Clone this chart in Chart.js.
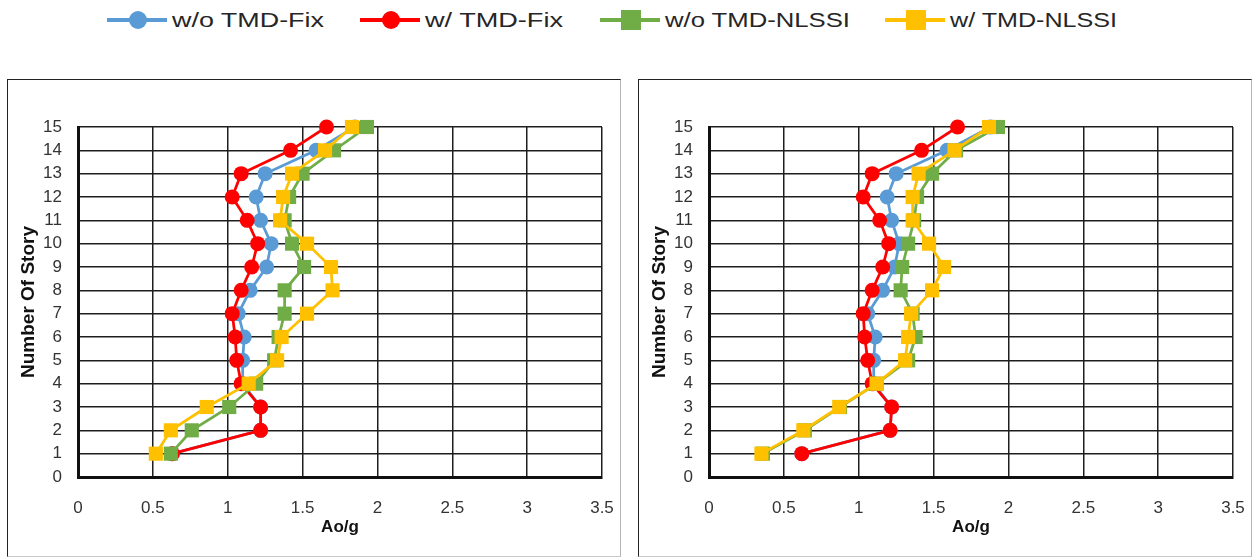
<!DOCTYPE html>
<html>
<head>
<meta charset="utf-8">
<script src="https://cdn.jsdelivr.net/npm/chart.js@4.4.1/dist/chart.umd.min.js"></script>
<style>
  html,body{margin:0;padding:0;background:#fff;}
  body{width:1253px;height:558px;overflow:hidden;position:relative;font-family:"Liberation Sans",Arial,sans-serif;}
  .panel{position:absolute;top:79px;width:612px;height:476px;border:1px solid;border-color:#222 #b4b4b4 #c8c8c8 #222;background:#fff;}
  .panel canvas{display:block;}
  .leg-icon{position:absolute;top:8px;}
  .leg-text{position:absolute;top:8px;height:24px;line-height:24px;font-size:20px;color:#262626;white-space:nowrap;transform-origin:left center;}
</style>
</head>
<body>
<div id="legend"></div>
<div class="panel" style="left:7px;"><canvas id="c1" width="612" height="476"></canvas></div>
<div class="panel" style="left:638px;"><canvas id="c2" width="612" height="476"></canvas></div>
<script>
// ---------- data ----------
const stories = [1, 2, 3, 4, 5, 6, 7, 8, 9, 10, 11, 12, 13, 14, 15];
const xTickLabels = ['0', '0.5', '1', '1.5', '2', '2.5', '3', '3.5'];
const yTickLabels = ['0', '1', '2', '3', '4', '5', '6', '7', '8', '9', '10', '11', '12', '13', '14', '15'];
const seriesNames = ['w/o TMD-Fix', 'w/ TMD-Fix', 'w/o TMD-NLSSI', 'w/ TMD-NLSSI'];
const seriesColors = ['#5B9BD5', '#FF0000', '#70AD47', '#FFC000'];
const seriesMarkers = ['circle', 'circle', 'rect', 'rect'];
const xTitle = 'Ao/g';
const yTitle = 'Number Of Story';

// left panel (stories 1..15)
const leftFixWithout   = [0.63, 1.22, 1.22, 1.10, 1.10, 1.11, 1.07, 1.15, 1.26, 1.29, 1.22, 1.19, 1.25, 1.59, 1.85];
const leftFixWith      = [0.63, 1.22, 1.22, 1.09, 1.06, 1.05, 1.03, 1.09, 1.16, 1.20, 1.13, 1.03, 1.09, 1.42, 1.66];
const leftNlssiWithout = [0.62, 0.76, 1.01, 1.19, 1.31, 1.34, 1.38, 1.38, 1.51, 1.43, 1.38, 1.41, 1.50, 1.71, 1.93];
const leftNlssiWith    = [0.52, 0.62, 0.86, 1.14, 1.33, 1.36, 1.53, 1.70, 1.69, 1.53, 1.35, 1.37, 1.43, 1.65, 1.83];

// right panel (stories 1..15)
const rightFixWithout   = [0.62, 1.21, 1.22, 1.10, 1.10, 1.11, 1.06, 1.16, 1.24, 1.27, 1.22, 1.19, 1.25, 1.59, 1.88];
const rightFixWith      = [0.62, 1.21, 1.22, 1.09, 1.06, 1.04, 1.03, 1.09, 1.16, 1.20, 1.14, 1.03, 1.09, 1.42, 1.66];
const rightNlssiWithout = [0.36, 0.64, 0.875, 1.12, 1.33, 1.38, 1.36, 1.28, 1.29, 1.33, 1.37, 1.39, 1.49, 1.65, 1.93];
const rightNlssiWith    = [0.35, 0.63, 0.87, 1.12, 1.31, 1.33, 1.35, 1.49, 1.57, 1.47, 1.36, 1.36, 1.40, 1.64, 1.87];

// ---------- legend (HTML) ----------
const legendIconLeft = [107, 360, 600, 885];
const legendTextBox = [[172, 152], [425, 138], [665, 185], [950, 167]];
const legendEl = document.getElementById('legend');
seriesNames.forEach((name, i) => {
  const col = seriesColors[i];
  const marker = seriesMarkers[i] === 'circle'
    ? `<circle cx="31" cy="12" r="9" fill="${col}"/>`
    : `<rect x="21" y="2" width="20" height="20" fill="${col}"/>`;
  const icon = document.createElement('div');
  icon.className = 'leg-icon';
  icon.style.left = legendIconLeft[i] + 'px';
  icon.innerHTML = `<svg width="60" height="24"><line x1="0" y1="12" x2="60" y2="12" stroke="${col}" stroke-width="4" stroke-linecap="round"/>${marker}</svg>`;
  legendEl.appendChild(icon);
  const t = document.createElement('div');
  t.className = 'leg-text';
  t.textContent = name;
  t.style.left = legendTextBox[i][0] + 'px';
  legendEl.appendChild(t);
  const w = t.getBoundingClientRect().width;
  if (w > 0) t.style.transform = `scaleX(${legendTextBox[i][1] / w})`;
});

// ---------- charts ----------
const FONT = '"Liberation Sans", Arial, sans-serif';

function makeDatasets(valsList) {
  return valsList.map((vals, i) => {
    const r = seriesMarkers[i] === 'rect' ? 10 : 7.5;
    return {
      label: seriesNames[i],
      data: stories.map((s, k) => ({ x: vals[k], y: s })),
      showLine: true,
      borderColor: seriesColors[i],
      backgroundColor: seriesColors[i],
      borderWidth: 2.75,
      pointStyle: seriesMarkers[i],
      pointRadius: r,
      pointHoverRadius: r,
      pointBorderWidth: 0,
      pointBackgroundColor: seriesColors[i],
      order: 4 - i,
      clip: false,
      tension: 0
    };
  });
}

function makeOptions() {
  return {
    responsive: false,
    animation: false,
    devicePixelRatio: 1,
    events: [],
    layout: { padding: { top: 47, right: 18, bottom: 0, left: 0 } },
    plugins: { legend: { display: false }, tooltip: { enabled: false } },
    scales: {
      x: {
        type: 'linear', min: 0, max: 3.5,
        ticks: {
          stepSize: 0.5, autoSkip: false, maxRotation: 0,
          callback: (v, i) => xTickLabels[i],
          font: { family: FONT, size: 17 }, color: '#333', padding: 21
        },
        grid: { color: '#1e1e1e', lineWidth: 1.5, drawTicks: false },
        border: { display: true, color: '#111', width: 3 },
        title: { display: true, text: xTitle, color: '#111',
                 font: { family: FONT, size: 17, weight: 'bold' }, padding: { top: 0, bottom: 18 } },
        afterFit: (sc) => { sc.height = 79; sc.paddingLeft = 0; sc.paddingRight = 0; }
      },
      y: {
        type: 'linear', min: 0, max: 15,
        ticks: {
          stepSize: 1, autoSkip: false,
          callback: (v, i) => yTickLabels[i],
          font: { family: FONT, size: 17 }, color: '#333', padding: 16
        },
        grid: { color: '#1e1e1e', lineWidth: 1.5, drawTicks: false },
        border: { display: true, color: '#111', width: 3 },
        title: { display: true, text: yTitle, color: '#111',
                 font: { family: FONT, size: 19, weight: 'bold' }, padding: { top: 9, bottom: 0 } },
        afterFit: (sc) => { sc.width = 70; sc.paddingTop = 0; sc.paddingBottom = 0; }
      }
    }
  };
}

new Chart(document.getElementById('c1'), {
  type: 'scatter',
  data: { datasets: makeDatasets([leftFixWithout, leftFixWith, leftNlssiWithout, leftNlssiWith]) },
  options: makeOptions()
});
new Chart(document.getElementById('c2'), {
  type: 'scatter',
  data: { datasets: makeDatasets([rightFixWithout, rightFixWith, rightNlssiWithout, rightNlssiWith]) },
  options: makeOptions()
});
</script>
</body>
</html>
